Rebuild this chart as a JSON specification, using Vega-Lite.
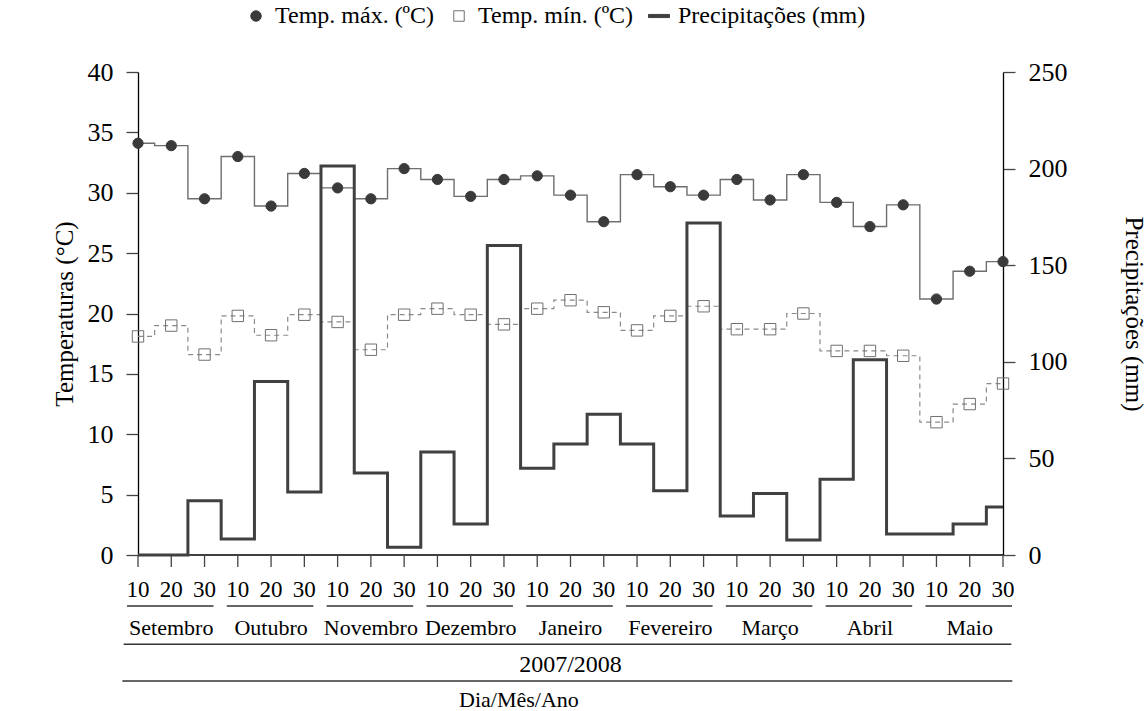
{
  "$schema": "https://vega.github.io/schema/vega-lite/v6.json",
  "width": 865,
  "height": 483,
  "autosize": {"type": "none"},
  "padding": {"left": 138, "top": 72, "right": 144, "bottom": 156},
  "background": "white",
  "config": {
    "font": "Liberation Serif",
    "view": {"stroke": null},
    "axis": {
      "grid": false,
      "domainColor": "#000000",
      "domainWidth": 1.3,
      "tickColor": "#444444",
      "tickWidth": 1.3,
      "tickSize": 12,
      "labelColor": "#000000",
      "titleColor": "#000000",
      "labelFont": "Liberation Serif",
      "titleFont": "Liberation Serif",
      "labelFontSize": 26,
      "titleFontSize": 25,
      "titleFontWeight": "normal"
    },
    "legend": {
      "labelFont": "Liberation Serif",
      "labelFontSize": 24,
      "labelColor": "#000000",
      "labelLimit": 500,
      "symbolSize": 110,
      "symbolStrokeWidth": 1
    },
    "text": {"font": "Liberation Serif", "color": "#000000"}
  },
  "datasets": {
    "periods": [
      {"i": 0, "dia": 10, "tmax": 34.1, "tmin": 18.1, "precip": 0},
      {"i": 1, "dia": 20, "tmax": 33.9, "tmin": 19.0, "precip": 0},
      {"i": 2, "dia": 30, "tmax": 29.5, "tmin": 16.6, "precip": 28.1},
      {"i": 3, "dia": 10, "tmax": 33.0, "tmin": 19.8, "precip": 8.3},
      {"i": 4, "dia": 20, "tmax": 28.9, "tmin": 18.2, "precip": 89.8},
      {"i": 5, "dia": 30, "tmax": 31.6, "tmin": 19.9, "precip": 32.6},
      {"i": 6, "dia": 10, "tmax": 30.4, "tmin": 19.3, "precip": 201.4},
      {"i": 7, "dia": 20, "tmax": 29.5, "tmin": 17.0, "precip": 42.5},
      {"i": 8, "dia": 30, "tmax": 32.0, "tmin": 19.9, "precip": 4.0},
      {"i": 9, "dia": 10, "tmax": 31.1, "tmin": 20.4, "precip": 53.3},
      {"i": 10, "dia": 20, "tmax": 29.7, "tmin": 19.9, "precip": 16.1},
      {"i": 11, "dia": 30, "tmax": 31.1, "tmin": 19.1, "precip": 160.2},
      {"i": 12, "dia": 10, "tmax": 31.4, "tmin": 20.4, "precip": 44.9},
      {"i": 13, "dia": 20, "tmax": 29.8, "tmin": 21.1, "precip": 57.4},
      {"i": 14, "dia": 30, "tmax": 27.6, "tmin": 20.1, "precip": 72.8},
      {"i": 15, "dia": 10, "tmax": 31.5, "tmin": 18.6, "precip": 57.5},
      {"i": 16, "dia": 20, "tmax": 30.5, "tmin": 19.8, "precip": 33.3},
      {"i": 17, "dia": 30, "tmax": 29.8, "tmin": 20.6, "precip": 171.9},
      {"i": 18, "dia": 10, "tmax": 31.1, "tmin": 18.7, "precip": 20.2},
      {"i": 19, "dia": 20, "tmax": 29.4, "tmin": 18.7, "precip": 31.8},
      {"i": 20, "dia": 30, "tmax": 31.5, "tmin": 20.0, "precip": 7.8},
      {"i": 21, "dia": 10, "tmax": 29.2, "tmin": 16.9, "precip": 39.2},
      {"i": 22, "dia": 20, "tmax": 27.2, "tmin": 16.9, "precip": 101.0},
      {"i": 23, "dia": 30, "tmax": 29.0, "tmin": 16.5, "precip": 10.9},
      {"i": 24, "dia": 10, "tmax": 21.2, "tmin": 11.0, "precip": 10.9},
      {"i": 25, "dia": 20, "tmax": 23.5, "tmin": 12.5, "precip": 16.1},
      {"i": 26, "dia": 30, "tmax": 24.3, "tmin": 14.2, "precip": 24.9}
    ],
    "months": [
      {"month": "Setembro", "first": 0, "last": 2, "mid": 1},
      {"month": "Outubro", "first": 3, "last": 5, "mid": 4},
      {"month": "Novembro", "first": 6, "last": 8, "mid": 7},
      {"month": "Dezembro", "first": 9, "last": 11, "mid": 10},
      {"month": "Janeiro", "first": 12, "last": 14, "mid": 13},
      {"month": "Fevereiro", "first": 15, "last": 17, "mid": 16},
      {"month": "Março", "first": 18, "last": 20, "mid": 19},
      {"month": "Abril", "first": 21, "last": 23, "mid": 22},
      {"month": "Maio", "first": 24, "last": 26, "mid": 25}
    ]
  },
  "layer": [
    {
      "layer": [
        {
          "data": {"name": "periods"},
          "mark": {"type": "line", "interpolate": "step", "color": "#6e6e6e", "strokeWidth": 1.4},
          "encoding": {
            "x": {"field": "i", "type": "quantitative", "scale": {"domain": [0, 26], "nice": false, "zero": false}, "axis": null},
            "y": {
              "field": "tmax", "type": "quantitative",
              "scale": {"domain": [0, 40], "nice": false},
              "axis": {
                "orient": "left",
                "values": [0, 5, 10, 15, 20, 25, 30, 35, 40],
                "labelPadding": 13,
                "title": "Temperaturas (°C)",
                "titlePadding": 10
              }
            }
          }
        },
        {
          "data": {"name": "periods"},
          "mark": {"type": "line", "interpolate": "step", "color": "#8a8a8a", "strokeWidth": 1.2, "strokeDash": [5, 4]},
          "encoding": {
            "x": {"field": "i", "type": "quantitative", "axis": null},
            "y": {"field": "tmin", "type": "quantitative", "scale": {"domain": [0, 40], "nice": false}}
          }
        },
        {
          "data": {"name": "periods"},
          "mark": {"type": "point", "opacity": 1, "size": 105, "strokeWidth": 1},
          "encoding": {
            "x": {"field": "i", "type": "quantitative", "axis": null},
            "y": {"field": "tmax", "type": "quantitative", "scale": {"domain": [0, 40], "nice": false}},
            "fill": {"datum": "Temp. máx. (ºC)", "type": "nominal",
              "scale": {"domain": ["Temp. máx. (ºC)", "Temp. mín. (ºC)", "Precipitações (mm)"], "range": ["#3a3a3a", "transparent", "#404040"]},
              "legend": {"title": null, "orient": "none", "legendX": 106, "legendY": -68, "direction": "horizontal", "labelOffset": 7, "columnPadding": 12}},
            "stroke": {"datum": "Temp. máx. (ºC)", "type": "nominal",
              "scale": {"domain": ["Temp. máx. (ºC)", "Temp. mín. (ºC)", "Precipitações (mm)"], "range": ["#3a3a3a", "#707070", "#404040"]},
              "legend": {"title": null}},
            "shape": {"datum": "Temp. máx. (ºC)", "type": "nominal",
              "scale": {"domain": ["Temp. máx. (ºC)", "Temp. mín. (ºC)", "Precipitações (mm)"], "range": ["circle", "square", "M-2,-0.3H2V0.3H-2Z"]},
              "legend": {"title": null}}
          }
        },
        {
          "data": {"name": "periods"},
          "mark": {"type": "point", "opacity": 1, "size": 130, "strokeWidth": 1},
          "encoding": {
            "x": {"field": "i", "type": "quantitative", "axis": null},
            "y": {"field": "tmin", "type": "quantitative", "scale": {"domain": [0, 40], "nice": false}},
            "fill": {"datum": "Temp. mín. (ºC)", "type": "nominal"},
            "stroke": {"datum": "Temp. mín. (ºC)", "type": "nominal"},
            "shape": {"datum": "Temp. mín. (ºC)", "type": "nominal"}
          }
        },
        {
          "data": {"values": [{"linha": "eixo"}]},
          "mark": {"type": "rule", "color": "#000000", "strokeWidth": 1.3},
          "encoding": {
            "x": {"datum": 0, "type": "quantitative", "axis": null},
            "x2": {"datum": 26},
            "y": {"datum": 0, "type": "quantitative", "scale": {"domain": [0, 40], "nice": false}}
          }
        },
        {
          "data": {"name": "periods"},
          "mark": {"type": "rule", "color": "#444444", "strokeWidth": 1.3},
          "encoding": {
            "x": {"field": "i", "type": "quantitative", "axis": null},
            "y": {"datum": 0, "type": "quantitative", "scale": {"domain": [0, 40], "nice": false}},
            "y2": {"datum": -0.994}
          }
        },
        {
          "data": {"name": "periods"},
          "mark": {"type": "text", "baseline": "alphabetic", "align": "center", "fontSize": 23},
          "encoding": {
            "x": {"field": "i", "type": "quantitative", "axis": null},
            "y": {"datum": -3.48, "type": "quantitative", "scale": {"domain": [0, 40], "nice": false}},
            "text": {"field": "dia"}
          }
        },
        {
          "data": {"name": "months"},
          "mark": {"type": "rule", "xOffset": -11, "x2Offset": 9, "color": "#333333", "strokeWidth": 1.5},
          "encoding": {
            "x": {"field": "first", "type": "quantitative", "axis": null},
            "x2": {"field": "last"},
            "y": {"datum": -4.22, "type": "quantitative", "scale": {"domain": [0, 40], "nice": false}}
          }
        },
        {
          "data": {"name": "months"},
          "mark": {"type": "text", "baseline": "alphabetic", "align": "center", "fontSize": 22},
          "encoding": {
            "x": {"field": "mid", "type": "quantitative", "axis": null},
            "y": {"datum": -6.59, "type": "quantitative", "scale": {"domain": [0, 40], "nice": false}},
            "text": {"field": "month"}
          }
        },
        {
          "data": {"values": [{"linha": "superior"}]},
          "mark": {"type": "rule", "color": "#333333", "strokeWidth": 1.5},
          "encoding": {
            "x": {"datum": -0.43, "type": "quantitative", "axis": null},
            "x2": {"datum": 26.25},
            "y": {"datum": -7.4, "type": "quantitative", "scale": {"domain": [0, 40], "nice": false}}
          }
        },
        {
          "data": {"values": [{"linha": "inferior"}]},
          "mark": {"type": "rule", "color": "#333333", "strokeWidth": 1.5},
          "encoding": {
            "x": {"datum": -0.47, "type": "quantitative", "axis": null},
            "x2": {"datum": 26.28},
            "y": {"datum": -10.43, "type": "quantitative", "scale": {"domain": [0, 40], "nice": false}}
          }
        },
        {
          "data": {"values": [{"texto": "2007/2008"}]},
          "mark": {"type": "text", "baseline": "alphabetic", "align": "center", "fontSize": 24},
          "encoding": {
            "x": {"datum": 13, "type": "quantitative", "axis": null},
            "y": {"datum": -9.73, "type": "quantitative", "scale": {"domain": [0, 40], "nice": false}},
            "text": {"field": "texto"}
          }
        },
        {
          "data": {"values": [{"texto": "Dia/Mês/Ano"}]},
          "mark": {"type": "text", "baseline": "alphabetic", "align": "center", "fontSize": 22},
          "encoding": {
            "x": {"datum": 11.45, "type": "quantitative", "axis": null},
            "y": {"datum": -12.6, "type": "quantitative", "scale": {"domain": [0, 40], "nice": false}},
            "text": {"field": "texto"}
          }
        }
      ]
    },
    {
      "data": {"name": "periods"},
      "mark": {"type": "line", "interpolate": "step", "strokeWidth": 3},
      "encoding": {
        "x": {"field": "i", "type": "quantitative", "axis": null},
        "y": {
          "field": "precip", "type": "quantitative",
          "scale": {"domain": [0, 250], "nice": false},
          "axis": {
            "orient": "right",
            "values": [0, 50, 100, 150, 200, 250],
            "labelPadding": 13,
            "title": "Precipitações (mm)",
            "titlePadding": 53
          }
        },
        "stroke": {"datum": "Precipitações (mm)", "type": "nominal"}
      }
    }
  ],
  "resolve": {"scale": {"y": "independent"}, "axis": {"y": "independent"}}
}
